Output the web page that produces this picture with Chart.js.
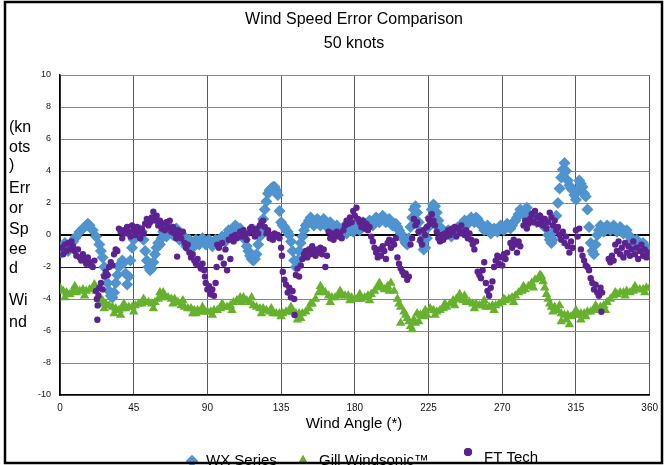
<!DOCTYPE html>
<html>
<head>
<meta charset="utf-8">
<script src="https://cdn.jsdelivr.net/npm/chart.js@4/dist/chart.umd.min.js"></script>
<style>
html, body { margin: 0; padding: 0; background: #fff; }
#wrap { width: 665px; height: 465px; }
</style>
</head>
<body>
<div id="wrap"><canvas id="windChart" width="665" height="465"></canvas></div>
<script>
// chart text
const chartTitle = ["Wind Speed Error Comparison", "50 knots"];
const xAxisTitle = "Wind Angle (*)";
const yAxisTitleLines = ["(kn", "ots", ")", "Err", "or", "Sp", "ee", "d", "Wi", "nd"];
const seriesNames = ["WX Series", "Gill Windsonic\u2122", "FT Tech"];
const xTickValues = [0, 45, 90, 135, 180, 225, 270, 315, 360];
const yTickValues = [-10, -8, -6, -4, -2, 0, 2, 4, 6, 8, 10];

// WX Series (blue diamonds) - main trace
const wxAngles = [0,2,4,6,8,10,12,14,16,17,18,20,22,24,25,26,27,28,29,30,31,32,33,34,35,36,37,38,39,40,41,42,43,44,45,46,47,48,49,50,51,52,53,54,55,56,57,58,59,60,62,64,66,68,70,72,74,76,78,80,82,84,86,88,90,92,94,96,98,100,102,104,106,108,110,112,113,114,115,116,117,118,119,120,121,122,123,124,125,126,127,128,129,130,131,132,133,134,135,136,137,138,139,140,141,142,143,144,145,146,147,148,149,150,152,154,156,158,160,162,164,166,168,170,172,174,176,178,180,182,184,186,188,190,192,194,196,198,200,202,204,206,207,208,209,210,211,212,213,214,215,216,217,218,219,220,221,222,223,224,225,226,227,228,229,230,231,232,234,236,238,240,242,244,246,248,250,252,254,256,258,260,262,264,266,268,270,272,274,276,278,280,282,284,286,288,290,292,294,296,298,299,300,301,302,303,304,305,306,307,308,309,310,311,312,313,314,315,316,317,318,319,320,321,322,323,324,325,326,327,328,329,331,333,335,337,339,341,343,345,347,349,351,353,355,357,359,360];
const wxError = [-0.9,-0.7,-0.8,-0.7,-0.4,-0.1,0.2,0.4,0.6,0.7,0.6,0.3,-0.1,-0.6,-1.0,-1.4,-2.0,-2.5,-3.0,-3.5,-3.8,-3.9,-3.6,-3.0,-2.5,-2.0,-1.8,-1.6,-1.7,-2.4,-3.1,-2.6,-1.6,-0.8,-0.3,0.0,0.2,0.3,0.3,0.2,-0.3,-1.0,-1.6,-2.0,-2.2,-2.1,-1.7,-1.2,-0.8,-0.5,-0.2,0.1,0.3,0.3,0.2,0.1,-0.1,-0.3,-0.5,-0.5,-0.6,-0.4,-0.3,-0.4,-0.4,-0.5,-0.5,-0.4,-0.3,-0.2,0.0,0.2,0.3,0.5,0.4,0.1,-0.3,-0.7,-1.0,-1.3,-1.5,-1.6,-1.5,-1.2,-0.6,-0.1,0.4,1.0,1.6,2.1,2.6,2.8,2.9,3.0,3.0,2.8,2.5,1.5,0.8,0.6,0.5,0.3,0.2,0.0,-0.4,-1.0,-1.6,-2.0,-1.6,-1.0,-0.5,-0.1,0.3,0.6,0.9,0.8,0.8,0.9,0.8,0.8,0.7,0.6,0.5,0.4,0.3,0.3,0.3,0.3,0.4,0.5,0.6,0.6,0.7,0.8,0.9,1.0,1.0,1.0,0.9,0.8,0.6,0.5,0.3,0.1,-0.1,-0.3,-0.5,-0.6,-0.2,0.5,1.1,1.6,1.8,1.4,0.8,0.2,-0.4,-0.9,-0.8,-0.2,0.5,1.1,1.6,1.9,1.8,1.4,0.9,0.4,0.2,0.1,0.1,0.1,0.3,0.5,0.7,0.8,0.9,1.0,1.1,0.8,0.6,0.4,0.3,0.2,0.3,0.4,0.4,0.5,0.6,0.6,0.9,1.3,1.5,1.5,1.3,1.1,1.0,1.0,0.8,0.5,0.0,-0.3,-0.5,-0.3,0.3,1.2,2.0,2.9,3.6,4.1,4.5,4.0,3.4,3.1,2.9,2.8,2.5,2.2,2.8,3.4,3.2,3.0,2.6,2.4,1.6,0.5,-0.5,-1.0,-1.2,-0.6,0.0,0.3,0.4,0.4,0.5,0.4,0.4,0.3,0.3,0.2,0.0,-0.3,-0.5,-0.6,-0.7,-0.8,-0.9,-1.0];
// WX Series - scatter around the trace
const wxSpreadAngles = [1,3,5,7,9,61,63,65,67,69,71,73,75,77,79,81,83,85,87,89,91,93,95,97,99,101,103,105,107,109,151,153,155,157,159,161,163,165,167,169,171,173,175,177,179,181,183,185,187,189,191,193,195,197,199,201,203,205,233,235,237,239,241,243,245,247,249,251,253,255,257,259,261,263,265,267,269,271,273,275,277,279,281,283,285,287,289,291,293,295,330,332,334,336,338,340,342,344,346,348,350,352,354,356,358];
const wxSpreadError = [-1.1,-0.5,-1.0,-0.5,-0.2,-0.6,0.2,-0.1,0.5,0.0,0.4,-0.3,0.0,-0.7,-0.3,-0.8,-0.3,-0.6,-0.2,-0.6,-0.3,-0.7,-0.3,-0.6,-0.1,-0.4,0.3,0.0,0.6,0.2,0.7,1.1,0.6,1.0,0.6,1.0,0.5,0.8,0.4,0.6,0.2,0.5,0.1,0.5,0.2,0.6,0.3,0.8,0.5,0.9,0.6,1.1,0.8,1.2,0.8,1.0,0.6,0.7,0.4,0.0,0.3,-0.1,0.2,0.5,0.4,0.9,0.7,1.1,0.8,1.0,0.6,0.3,0.6,0.1,0.4,0.2,0.6,0.3,0.7,0.4,0.8,1.1,1.6,1.3,1.7,1.2,1.3,0.8,1.1,0.6,0.6,0.2,0.6,0.3,0.6,0.2,0.5,0.1,0.3,-0.1,-0.6,-0.3,-0.8,-0.5,-1.1];

// Gill Windsonic (green triangles) - main trace
const gillAngles = [0,2,4,6,8,10,12,14,16,18,20,22,24,26,28,30,32,34,36,38,40,42,44,46,48,50,52,54,56,58,60,62,64,66,68,70,72,74,76,78,80,82,84,86,88,90,92,94,96,98,100,102,104,106,108,110,112,114,116,118,120,122,124,126,128,130,132,134,136,138,140,142,144,146,148,150,152,154,156,158,160,162,164,166,168,170,172,174,176,178,180,182,184,186,188,190,192,194,196,198,200,202,204,206,208,210,211,212,213,214,215,216,218,220,222,224,226,228,230,232,234,236,238,240,242,244,246,248,250,252,254,256,258,260,262,264,266,268,270,272,274,276,278,280,282,284,286,288,290,292,294,295,296,297,298,299,300,302,304,306,308,310,312,314,316,318,320,322,324,326,328,330,332,334,336,338,340,342,344,346,348,350,352,354,356,358,360];
const gillError = [-3.3,-3.5,-3.6,-3.7,-3.5,-3.6,-3.5,-3.4,-3.5,-3.4,-3.3,-3.5,-3.9,-4.1,-4.3,-4.4,-4.5,-4.6,-4.7,-4.6,-4.6,-4.5,-4.5,-4.4,-4.3,-4.3,-4.2,-4.2,-4.3,-4.2,-4.0,-3.9,-3.8,-3.9,-4.0,-4.0,-4.2,-4.4,-4.5,-4.6,-4.6,-4.7,-4.7,-4.8,-4.8,-4.8,-4.8,-4.7,-4.7,-4.6,-4.5,-4.5,-4.4,-4.2,-4.1,-3.9,-3.9,-4.1,-4.2,-4.4,-4.5,-4.6,-4.6,-4.7,-4.8,-4.9,-4.9,-4.9,-4.9,-4.8,-4.8,-4.8,-4.9,-4.9,-4.9,-4.8,-4.6,-4.3,-4.0,-3.6,-3.4,-3.6,-3.8,-3.9,-3.9,-3.8,-3.7,-3.8,-3.8,-3.9,-4.0,-4.0,-4.0,-3.9,-3.8,-3.7,-3.5,-3.2,-3.3,-3.4,-3.2,-3.0,-3.5,-4.0,-4.5,-4.8,-5.0,-5.2,-5.4,-5.7,-5.9,-5.3,-4.9,-5.0,-5.1,-5.0,-4.6,-4.7,-4.8,-4.7,-4.6,-4.5,-4.3,-4.1,-4.0,-4.0,-4.1,-4.2,-4.2,-4.3,-4.3,-4.4,-4.4,-4.5,-4.5,-4.4,-4.4,-4.3,-4.2,-4.1,-4.0,-3.9,-3.8,-3.6,-3.5,-3.4,-3.2,-3.0,-2.8,-2.7,-2.6,-2.9,-3.3,-3.7,-4.0,-4.3,-4.5,-4.5,-4.7,-4.9,-5.0,-5.0,-5.1,-5.0,-5.0,-4.9,-4.9,-4.8,-4.8,-4.7,-4.6,-4.5,-4.4,-4.2,-4.0,-3.8,-3.7,-3.6,-3.6,-3.5,-3.6,-3.5,-3.4,-3.4,-3.4,-3.3,-3.3];
// Gill Windsonic - scatter around the trace
const gillSpreadAngles = [3,9,15,21,25,27,33,37,39,45,51,57,61,63,69,75,81,83,87,93,99,105,111,117,123,129,135,141,145,147,153,159,165,171,177,183,189,195,201,207,208,217,219,223,229,235,241,244,247,253,259,265,271,277,283,289,293,301,305,306,309,311,315,318,321,327,333,339,345,351,357];
const gillSpreadError = [-3.9,-3.2,-3.8,-3.1,-4.3,-4.6,-4.9,-5.0,-4.3,-4.8,-4.0,-4.6,-3.6,-3.6,-4.3,-4.1,-4.9,-4.9,-4.5,-5.0,-4.3,-4.7,-4.2,-3.9,-4.9,-4.6,-5.1,-4.5,-5.3,-5.2,-4.3,-3.2,-4.2,-3.5,-4.1,-3.7,-4.1,-3.0,-3.5,-4.3,-5.5,-5.5,-5.4,-4.7,-5.0,-4.3,-4.4,-3.7,-3.8,-4.6,-4.1,-4.7,-4.0,-4.2,-3.2,-3.3,-2.5,-4.8,-4.4,-5.4,-5.3,-5.6,-4.7,-5.3,-5.1,-4.4,-4.7,-3.6,-3.8,-3.2,-3.6];

// FT Tech (purple dots)
const ftAngles = [1,2,3,4,5,6,7,8,9,10,11,12,13,14,15,16,17,18,19,20,21,22,22.5,23,23.5,22.8,24,25,26,27,28,29,30,31,32,33,34,35,36,37,38,39,40,41,42,43,44,45,46,47,48,49,50,51,52,53,54,55,56,57,58,59,60,61,62,63,64,65,66,67,68,69,70,71,71.5,72,73,74,75,76,77,78,79,80,81,82,83,84,85,86,87,88,88.5,89,90,91,92,93,94,95,95.6,96,97,98,99,100,101,102,103,104,105,106,107,108,110,111,112,113,114,115,116,117,118,119,120,121,122,123,124,125,126,127,128,129,130,131,132,133,134,135,135.5,136,137,138,139,140,141,142,143,143.2,144,145,146,147,148,149,150,151,152,153,154,155,156,157,158,159,160,161,162,163,164,165,166,167,168,169,170,171,172,173,174,175,176,177,178,179,180,181,182,183,184,185,186,187,188,189,190,191,192,193,194,195,196,197,198,199,200,201,202,203,204,205,206,207,208,209,210,211,212,213,214,215,216,217,218,219,220,221,222,223,224,225,226,227,228,229,230,231,232,233,234,235,236,237,238,239,240,241,242,243,244,245,246,247,248,249,250,251,252,253,254,255,256,257,258,259,260,261,262,263,264,265,266,267,268,269,270,271,272,273,275,276,277,278,279,280,281,283,284,285,286,287,288,289,290,291,292,293,294,295,296,297,298,299,300,301,302,303,304,305,306,307,308,309,310,311,312,313,315,316,317,318,319,320,321,322,323,324,325,326,327,328,329,330,330.5,331,335,336,337,338,339,340,341,342,343,344,345,346,347,348,349,350,351,352,353,354,355,356,357,358,359];
const ftError = [-0.8,-1.2,-0.6,-1.0,-0.5,-0.9,-0.4,-0.7,-1.0,-1.3,-0.9,-1.4,-1.6,-1.2,-1.5,-1.8,-1.4,-1.7,-1.9,-2.0,-1.6,-3.5,-4.0,-4.4,-3.8,-5.3,-3.3,-3.0,-3.4,-2.6,-2.3,-2.5,-2.0,-1.7,-1.9,-1.2,-0.9,-1.0,0.4,0.2,-0.2,0.3,0.1,0.5,0.2,-0.1,0.6,0.3,0.0,0.5,0.2,-0.2,0.4,0.1,0.7,1.0,0.6,0.8,1.1,1.45,0.9,1.2,0.6,0.9,0.4,0.7,0.3,0.8,0.5,0.9,0.2,0.5,0.1,-0.2,-1.35,0.3,0.0,-0.2,0.2,-0.5,-0.8,-0.6,-1.1,-1.4,-1.2,-1.6,-1.8,-1.5,-1.9,-2.1,-1.8,-2.2,-2.6,-3.0,-3.4,-3.2,-3.7,-3.4,-3.8,-3.0,-2.0,-0.6,-0.8,-1.4,-0.5,-1.8,-0.9,-2.2,-0.3,-1.5,-0.1,-0.4,0.0,-0.2,0.2,-0.1,0.3,0.0,-0.3,0.1,0.4,0.5,0.2,-0.1,0.4,0.1,0.6,0.8,0.9,0.5,0.1,0.3,-0.2,0.0,-0.3,0.1,-0.1,0.0,-0.2,-0.8,-1.3,-2.3,-2.8,-3.1,-3.6,-3.3,-3.9,-3.5,-4.0,-5.0,-2.5,-2.1,-2.6,-1.9,-1.5,-1.2,-1.0,-1.4,-0.9,-1.2,-0.7,-1.0,-1.3,-0.9,-1.1,-0.8,-1.2,-0.9,-2.0,-1.3,0.2,-0.2,0.1,-0.3,0.0,0.2,-0.1,0.1,-0.2,0.3,0.6,0.9,0.7,1.1,0.8,1.5,1.2,1.7,1.0,0.8,0.5,0.9,0.4,0.7,0.3,0.5,-0.1,-0.4,-0.8,-1.1,-1.4,-0.9,-1.3,-0.7,-1.0,-1.5,-0.5,-0.3,-0.8,-0.4,-0.6,-0.2,-1.4,-1.8,-2.1,-2.3,-2.5,-2.4,-2.8,-2.6,-0.6,-0.2,1.0,0.6,0.8,0.2,-0.3,-0.6,0.3,0.0,0.5,1.0,0.7,1.3,0.9,0.6,0.2,-0.2,-0.4,0.0,-0.3,0.1,-0.1,0.3,0.0,0.4,0.2,0.5,-0.1,0.4,0.1,0.6,0.2,0.0,0.3,-0.2,0.1,-0.3,-0.6,-0.9,-0.4,-2.3,-2.5,-2.7,-2.2,-1.7,-3.0,-3.5,-3.8,-3.3,-2.9,-2.0,-1.6,-1.3,-1.8,-1.4,-1.9,-1.2,-1.5,-1.1,-0.5,-0.8,-0.3,-0.6,-1.1,-0.4,-0.7,0.6,0.9,0.4,0.7,1.0,1.3,0.8,1.5,1.1,0.7,1.2,0.9,0.6,1.0,0.4,0.8,1.4,1.1,0.6,0.9,0.3,0.5,0.0,-0.3,0.2,-0.5,-0.1,-0.7,-1.1,-0.4,-0.8,0.3,-0.1,0.4,-0.9,-1.3,-1.6,-1.9,-2.0,-2.2,-2.7,-3.0,-3.4,-3.1,-3.6,-3.8,-3.3,-4.8,-3.6,-1.5,-1.7,-1.3,-1.6,-0.6,-1.0,-0.4,-1.2,-0.8,-1.4,-0.5,-1.1,-0.7,-1.3,-0.9,-0.4,-1.2,-0.8,-1.5,-1.0,-0.6,-1.3,-0.9,-1.4,-1.1];

const colors = ["#4f93cf", "#66b22e", "#5c2290"];
const markers = ["rectRot", "triangle", "circle"];

function toPoints(xs, ys) {
    return xs.map((x, i) => ({ x: x, y: ys[i] }));
}

const FONT = '"Liberation Sans", Arial, sans-serif';

// titles, the wrapped axis caption, legend and the outer frame
const decorPlugin = {
    id: "decor",
    afterDraw(chart) {
        const ctx = chart.ctx;
        ctx.save();
        ctx.fillStyle = "#000";
        ctx.textBaseline = "middle";
        ctx.textAlign = "center";
        ctx.font = "16px " + FONT;
        ctx.fillText(chartTitle[0], 354, 20);
        ctx.fillText(chartTitle[1], 354, 44);
        ctx.font = "15px " + FONT;
        ctx.fillText(xAxisTitle, 354, 424);

        ctx.textAlign = "left";
        ctx.font = "16px " + FONT;
        const rows = [128, 148, 166, 189, 209, 230, 250, 269, 301, 323];
        yAxisTitleLines.forEach((t, i) => ctx.fillText(t, 9, rows[i]));

        // legend
        const items = [
            { mx: 192, my: 461, tx: 206, ty: 461 },
            { mx: 303, my: 461, tx: 319, ty: 461 },
            { mx: 468, my: 452, tx: 484, ty: 458 }
        ];
        ctx.font = "15px " + FONT;
        items.forEach((it, i) => {
            ctx.fillStyle = colors[i];
            ctx.strokeStyle = colors[i];
            Chart.helpers.drawPoint(ctx, { pointStyle: markers[i], radius: i === 2 ? 4 : 6, rotation: 0, borderWidth: 0 }, it.mx, it.my);
            ctx.fill();
            ctx.fillStyle = "#000";
            ctx.fillText(seriesNames[i], it.tx, it.ty);
        });

        ctx.lineWidth = 2.5;
        ctx.strokeStyle = "#000";
        ctx.strokeRect(5, 2, 657, 461);
        ctx.restore();
    }
};

new Chart(document.getElementById("windChart"), {
    type: "scatter",
    data: {
        datasets: [
            {
                label: seriesNames[0],
                data: toPoints(wxAngles.concat(wxSpreadAngles), wxError.concat(wxSpreadError)),
                pointStyle: markers[0],
                pointRadius: 6,
                backgroundColor: colors[0],
                borderColor: colors[0],
                borderWidth: 0,
                order: 2
            },
            {
                label: seriesNames[1],
                data: toPoints(gillAngles.concat(gillSpreadAngles), gillError.concat(gillSpreadError)),
                pointStyle: markers[1],
                pointRadius: 5.5,
                backgroundColor: colors[1],
                borderColor: colors[1],
                borderWidth: 0,
                order: 1
            },
            {
                label: seriesNames[2],
                data: toPoints(ftAngles, ftError),
                pointStyle: markers[2],
                pointRadius: 3.2,
                backgroundColor: colors[2],
                borderColor: colors[2],
                borderWidth: 0,
                order: 0
            }
        ]
    },
    options: {
        responsive: false,
        animation: false,
        devicePixelRatio: 1,
        layout: { padding: { left: 0, right: 9, top: 75, bottom: 0 } },
        plugins: {
            legend: { display: false },
            title: { display: false },
            tooltip: { enabled: false }
        },
        scales: {
            x: {
                type: "linear",
                min: 0,
                max: 360,
                afterBuildTicks: (s) => { s.ticks = xTickValues.map(v => ({ value: v })); },
                afterFit: (s) => { s.height = 70; },
                ticks: { color: "#111", font: { family: FONT, size: 10 }, padding: 7 },
                grid: { color: "#5a5a5a", lineWidth: 1, drawTicks: false },
                border: { color: "#000", width: 1.5 }
            },
            y: {
                min: -10,
                max: 10,
                afterBuildTicks: (s) => { s.ticks = yTickValues.map(v => ({ value: v })); },
                afterFit: (s) => { s.width = 60; },
                ticks: { color: "#111", font: { family: FONT, size: 9 }, padding: 9 },
                grid: {
                    drawTicks: false,
                    color: (c) => c.tick.value === 0 ? "#000" : (c.tick.value === -2 ? "#222" : "#888"),
                    lineWidth: (c) => c.tick.value === 0 ? 2 : 1
                },
                border: { color: "#000", width: 1.5 }
            }
        }
    },
    plugins: [decorPlugin]
});
</script>
</body>
</html>
